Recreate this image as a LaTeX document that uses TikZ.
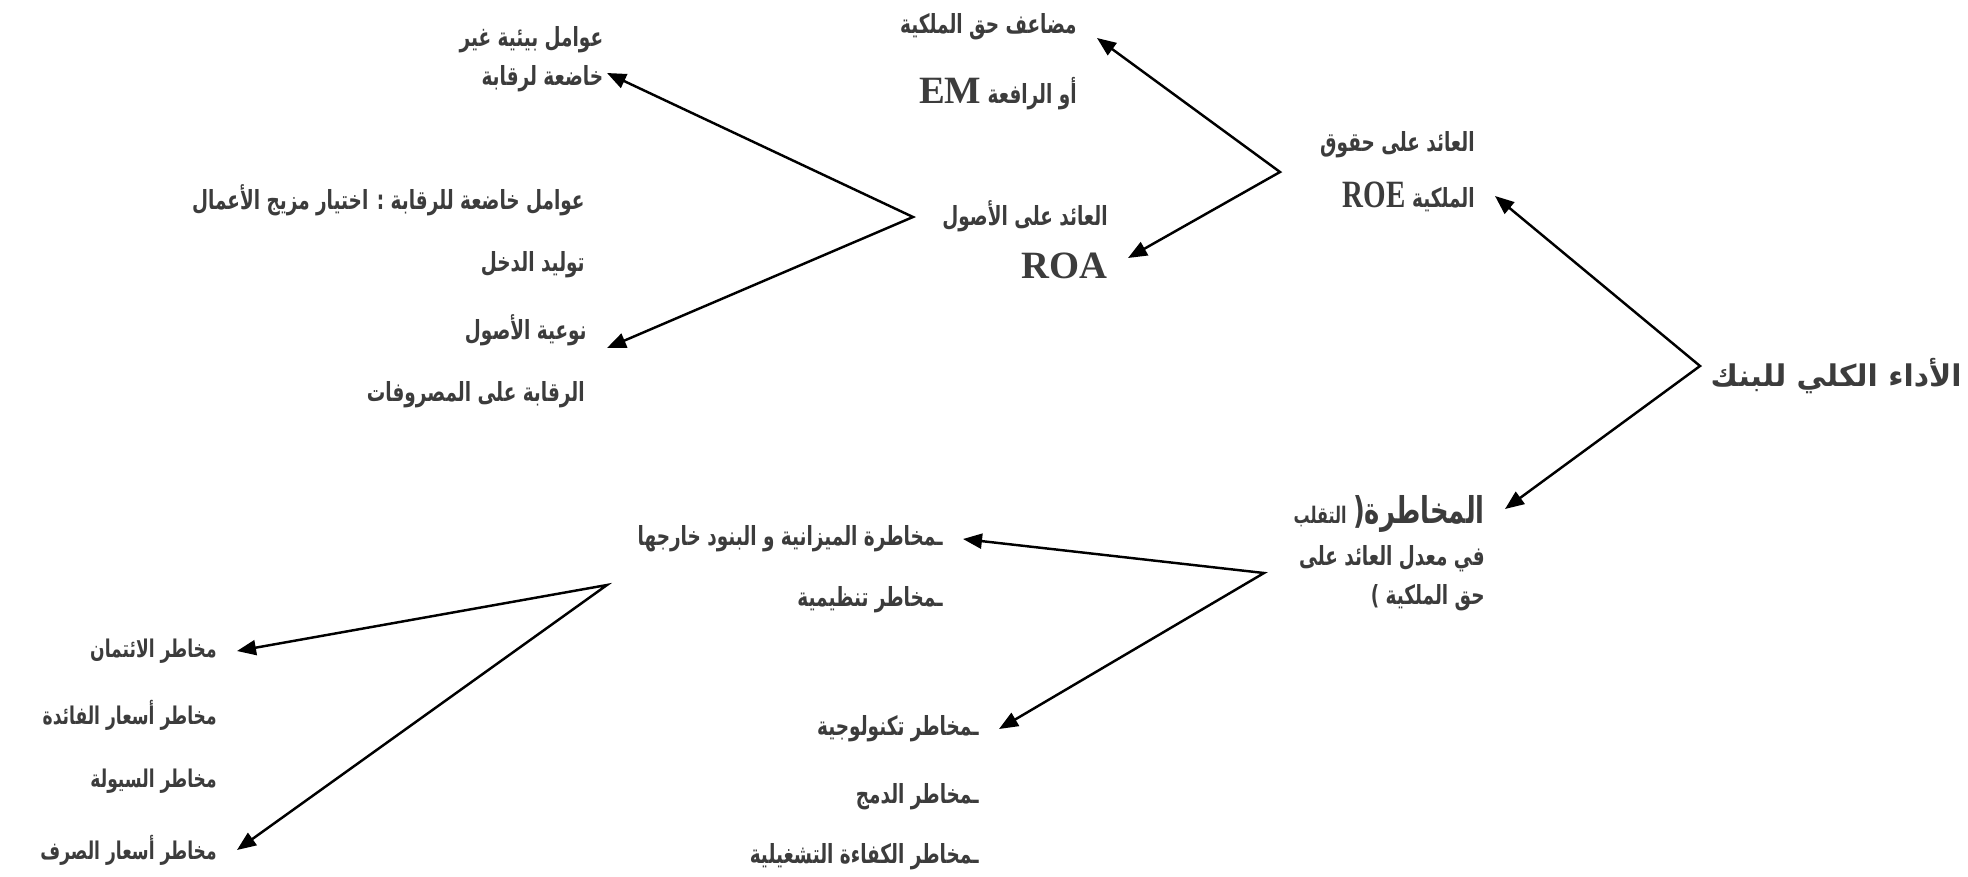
\documentclass[tikz,border=0pt]{standalone}
\usepackage{fontspec}
\newfontfamily\arabicfont[Script=Arabic,FakeStretch=0.70]{DejaVu Sans}
\newfontfamily\arabicwide[Script=Arabic]{DejaVu Sans}
\newfontfamily\latinfont{Liberation Serif}
\TeXXeTstate=1
\usetikzlibrary{arrows.meta,positioning,calc}
\definecolor{slate}{RGB}{60,60,60}
\newcommand{\rl}[1]{\beginR #1\endR}
\newcommand{\abbr}[1]{{\latinfont\fontsize{22}{24}\selectfont #1}}
\tikzset{
  >={Triangle[length=3.8mm,width=3mm]},
  lbl/.style={font=\arabicfont\bfseries\fontsize{15}{22}\selectfont,text=slate,
    align=right,anchor=east,inner xsep=0.4cm,inner ysep=1pt},
  small lbl/.style={lbl,font=\arabicfont\bfseries\fontsize{13.9}{22}\selectfont},
  link/.style={<->,line width=1.4pt,line join=miter},
}

\begin{document}
\begin{tikzpicture}[x=0.02cm,y=-0.02cm]
  \useasboundingbox (0,0) rectangle (1968,876);
  % main node and the two ratios
  \node[lbl,font=\arabicwide\bfseries\fontsize{17}{22}\selectfont] (bank) at (1982,376) {\rl{الأداء الكلي للبنك}};
  \node[lbl] (roe) at (1495,172) {\rl{العائد على حقوق}\\[10pt]\scalebox{0.75}[1]{\abbr{ROE}} \rl{الملكية}};
  \node[lbl] (risk) at (1505,553) {\rl{{\fontsize{21}{22}\selectfont المخاطرة(} {\fontsize{13}{13}\selectfont التقلب}}\\[2pt]\rl{في معدل العائد على}\\\rl{حق الملكية )}};
  % ROE branch
  \node[lbl] (em) at (1097,62) {\rl{مضاعف حق الملكية}\\[18pt]\rl{أو الرافعة \abbr{EM}}};
  \node[lbl] (roa) at (1128,240) {\rl{العائد على الأصول}\\[8pt]\abbr{ROA}};
  % ROA branch
  \node[lbl,inner xsep=2pt] (env) at (607,59) {\rl{عوامل بيئية غير}\\\rl{خاضعة لرقابة}};
  \node[lbl] (mix) at (605,200) {\rl{عوامل خاضعة للرقابة : اختيار مزيج الأعمال}};
  \node[lbl] (income) at (605,265) {\rl{توليد الدخل}};
  \node[lbl] (asset) at (607,330) {\rl{نوعية الأصول}};
  \node[lbl] (expense) at (605,395) {\rl{الرقابة على المصروفات}};
  % risk branch
  \node[lbl] (bs) at (963,539) {\rl{ـمخاطرة الميزانية و البنود خارجها}};
  \node[lbl] (reg) at (963,600) {\rl{ـمخاطر تنظيمية}};
  \node[lbl] (tech) at (999,729) {\rl{ـمخاطر تكنولوجية}};
  \node[lbl] (merge) at (999,797) {\rl{ـمخاطر الدمج}};
  \node[lbl] (eff) at (999,857) {\rl{ـمخاطر الكفاءة التشغيلية}};
  \node[small lbl] (credit) at (237,651) {\rl{مخاطر الائتمان}};
  \node[small lbl] (rate) at (237,715) {\rl{مخاطر أسعار الفائدة}};
  \node[small lbl] (liq) at (237,781) {\rl{مخاطر السيولة}};
  \node[small lbl] (fx) at (237,850) {\rl{مخاطر أسعار الصرف}};
  % bends
  \coordinate (vb) at (1700,366);
  \coordinate (ve) at (1280,172);
  \coordinate (va) at (913,217);
  \coordinate (vr) at (1264,573);
  \coordinate (vm) at (607,585);
  \draw[link] ($(roe.east)+(0,24)$) -- (vb) -- ($(risk.east)+(0,-44)$);
  \draw[link] ($(em.east)+(0,-24)$) -- (ve) -- ($(roa.east)+(0,18)$);
  \draw[link] ($(env.east)+(0,14)$) -- (va) -- ($(asset.east)+(0,18)$);
  \draw[link] (bs.east) -- (vr) -- (tech.east);
  \draw[link] (credit.east) -- (vm) -- (fx.east);
\end{tikzpicture}
\end{document}
